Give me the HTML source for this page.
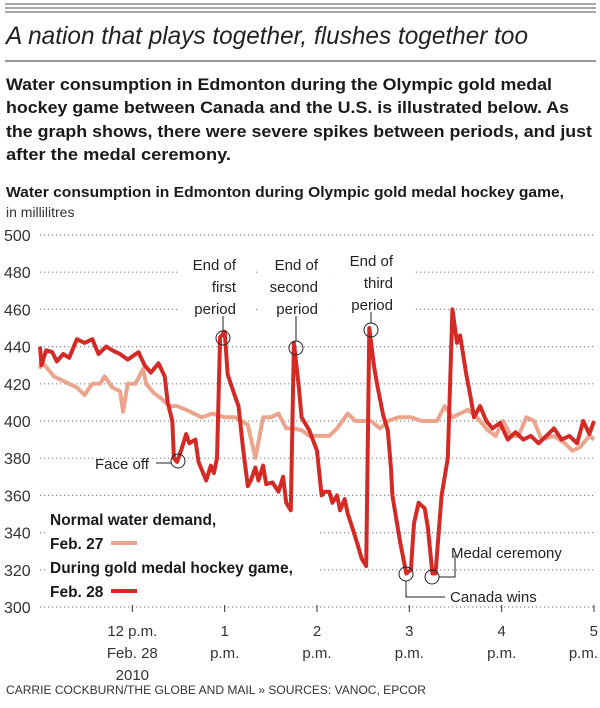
<!DOCTYPE html>
<html><head><meta charset="utf-8"><style>
body{margin:0;background:#fff;width:600px;height:708px;overflow:hidden;font-family:"Liberation Sans",sans-serif;color:#222}
svg{position:absolute;left:0;top:0}
</style></head><body>
<svg width="600" height="708" viewBox="0 0 600 708" font-family="Liberation Sans, sans-serif">
<g stroke="#555" stroke-width="1">
<line x1="5" y1="4" x2="596" y2="4"/><line x1="5" y1="8" x2="596" y2="8"/><line x1="5" y1="12" x2="596" y2="12"/>
<line x1="5" y1="61" x2="596" y2="61" stroke="#333"/>
</g>
<text x="6" y="44" font-size="25" font-style="italic" fill="#222" textLength="522" lengthAdjust="spacingAndGlyphs">A nation that plays together, flushes together too</text>
<g font-size="16.5" font-weight="bold" fill="#1a1a1a">
<text x="6" y="90" textLength="546" lengthAdjust="spacingAndGlyphs">Water consumption in Edmonton during the Olympic gold medal</text>
<text x="6" y="113" textLength="563" lengthAdjust="spacingAndGlyphs">hockey game between Canada and the U.S. is illustrated below. As</text>
<text x="6" y="137" textLength="586" lengthAdjust="spacingAndGlyphs">the graph shows, there were severe spikes between periods, and just</text>
<text x="6" y="160" textLength="225" lengthAdjust="spacingAndGlyphs">after the medal ceremony.</text>
</g>
<text x="6" y="197" font-size="15" font-weight="bold" fill="#1a1a1a" textLength="558" lengthAdjust="spacingAndGlyphs">Water consumption in Edmonton during Olympic gold medal hockey game,</text>
<text x="6" y="217" font-size="14" fill="#333">in millilitres</text>
<g id="grid"></g>
<g id="axes"></g>
<g id="series"></g>
<g id="annot" font-size="15" fill="#222"></g>
<text x="6" y="694" font-size="11.5" fill="#333" textLength="420" lengthAdjust="spacingAndGlyphs">CARRIE COCKBURN/THE GLOBE AND MAIL  »  SOURCES: VANOC, EPCOR</text>
</svg>
<script>
const yTicks=[300,320,340,360,380,400,420,440,460,480,500];
const xTickMinutes=[60,120,180,240,300,360];
const xTickLine1=["12 p.m.","1","2","3","4","5"];
const xTickLine2=["Feb. 28","p.m.","p.m.","p.m.","p.m.","p.m."];
const xTickLine3=["2010","","","","",""];
// minutes after 11 a.m.
const gameTimes=[0,1,4,8,11,15,19,24,29,34,38,43,47,52,57,64,68,72,77,81,83,86,87,89,92,95,97,101,103,108,111,113,115,117,120,122,126,129,132,135,137,140,142,145,147,151,155,158,160,163,165,168,170,175,180,183,185,188,190,193,195,198,200,202,204,207,209,212,214,217,219,223,226,228,229,232,234,238,241,243,246,250,252,255,257,261,265,268,271,273,277,280,282,286,290,294,299,304,309,314,319,324,329,334,339,344,349,353,357,360];
const gameValues=[440,430,438,437,432,436,434,444,442,444,436,440,438,436,433,437,430,426,431,424,410,400,380,378,385,393,388,390,378,368,376,372,380,445,448,425,415,408,385,365,368,375,368,376,366,367,362,370,356,352,442,420,402,395,384,360,362,362,356,360,352,358,350,345,340,332,326,322,450,430,420,403,395,375,360,345,335,318,320,345,356,353,343,318,318,360,380,460,442,446,425,412,402,408,400,396,399,390,394,390,392,388,392,396,390,392,388,400,393,400];
const normalTimes=[0,1,5,9,14,19,24,29,34,39,42,47,52,54,57,62,67,69,74,79,84,89,95,100,105,112,120,127,135,140,145,150,155,160,165,170,175,183,188,193,200,205,210,215,221,226,233,241,248,258,263,268,273,278,284,291,296,301,306,311,316,321,326,334,341,346,351,357,360];
const normalValues=[428,432,428,424,422,420,418,414,420,420,424,418,416,405,420,420,428,420,415,412,408,408,406,404,402,404,402,402,398,380,402,402,404,396,396,395,392,392,392,396,404,400,400,400,396,400,402,402,400,400,408,402,404,406,402,395,392,400,392,392,402,400,390,392,388,384,386,392,390];
const X0=40,X1=594,Y0=607,Y1=235;
const xs=m=>X0+(m/360)*(X1-X0);
const ys=v=>Y0-(v-300)/200*(Y0-Y1);
const NS="http://www.w3.org/2000/svg";
function mk(tag,attrs,parent){const e=document.createElementNS(NS,tag);for(const k in attrs)e.setAttribute(k,attrs[k]);parent.appendChild(e);return e;}
const grid=document.getElementById('grid'),axes=document.getElementById('axes'),ser=document.getElementById('series'),an=document.getElementById('annot');
yTicks.forEach(v=>{
 const l=mk('line',{x1:X0,x2:X1+2,y1:ys(v),y2:ys(v),stroke:'#888','stroke-width':1.2,'stroke-dasharray':'1.2 2.8'},grid);
 
 
 const t=mk('text',{x:4,y:ys(v)+6,'font-size':16,fill:'#333'},axes);
 t.textContent=v;
 
 
});
xTickMinutes.forEach((m,i)=>{
 const x=xs(m);
 const tk=mk('line',{x1:x,x2:x,y1:Y0-2,y2:Y0+5,stroke:'#333','stroke-width':1},axes);
 
 
 const anchor=i===5?'end':'middle';const xx=i===5?x+4:x;
 [xTickLine1[i],xTickLine2[i],xTickLine3[i]].forEach((s,j)=>{if(!s)return;
  const t=mk('text',{x:xx,y:636+j*22,'font-size':15,fill:'#333','text-anchor':anchor},axes);
  t.textContent=s;
  
  
 });
});
function path(ts,vs){return ts.map((t,i)=>(i?'L':'M')+xs(t).toFixed(1)+','+ys(vs[i]).toFixed(1)).join('');}
const pn=mk('path',{d:path(normalTimes,normalValues),fill:'none',stroke:'#eba58c','stroke-width':4,'stroke-linejoin':'round'},ser);


const pg=mk('path',{d:path(gameTimes,gameValues),fill:'none',stroke:'#d42a26','stroke-width':4,'stroke-linejoin':'round'},ser);


function txt(s,x,y,anchor,name){const t=mk('text',{x:x,y:y,'text-anchor':anchor||'start'},an);t.textContent=s;return t;}
function circ(cx,cy,name){const c=mk('circle',{cx:cx,cy:cy,r:7,fill:'none',stroke:'#222','stroke-width':1},an);}
function ln(pts,name){const p=mk('polyline',{points:pts,fill:'none',stroke:'#222','stroke-width':1},an);}
const bg=(x,y,w,h)=>{const r=mk('rect',{x:x,y:y,width:w,height:h,fill:'#fff'},grid);};
bg(180,248,75,62);bg(258,248,75,62);bg(335,248,78,62);
txt('End of',236,270,'end','first-period-label');txt('first',236,292,'end','first-period-label');txt('period',236,314,'end','first-period-label');
circ(223,338,'first-period-marker');ln('223,331 223,316','first-period-leader');
txt('End of',318,270,'end','second-period-label');txt('second',318,292,'end','second-period-label');txt('period',318,314,'end','second-period-label');
circ(296,348,'second-period-marker');ln('296,341 296,316','second-period-leader');
txt('End of',393,266,'end','third-period-label');txt('third',393,288,'end','third-period-label');txt('period',393,310,'end','third-period-label');
circ(371,330,'third-period-marker');ln('371,323 371,312','third-period-leader');
txt('Face off',95,469,'start','face-off-label');circ(178,461,'face-off-marker');ln('156,463 171,463','face-off-leader');
circ(406,574,'canada-wins-marker');ln('406,581 406,597 445,597','canada-wins-leader');txt('Canada wins',450,602,'start','canada-wins-label');
circ(432,577,'medal-ceremony-marker');ln('439,577 455,577 455,555','medal-ceremony-leader');txt('Medal ceremony',451,558,'start','medal-ceremony-label');
bg(48,505,270,100);
const lg=[['Normal water demand,',525],['Feb. 27',549],['During gold medal hockey game,',573],['Feb. 28',597]];
lg.forEach(l=>{const t=mk('text',{x:50,y:l[1],'font-size':15.5,'font-weight':'bold',fill:'#1a1a1a'},an);t.textContent=l[0];});
const s1=mk('line',{x1:111,x2:137,y1:543,y2:543,stroke:'#eba58c','stroke-width':4},an);
const s2=mk('line',{x1:111,x2:137,y1:591,y2:591,stroke:'#d42a26','stroke-width':4},an);
</script>
</body></html>
